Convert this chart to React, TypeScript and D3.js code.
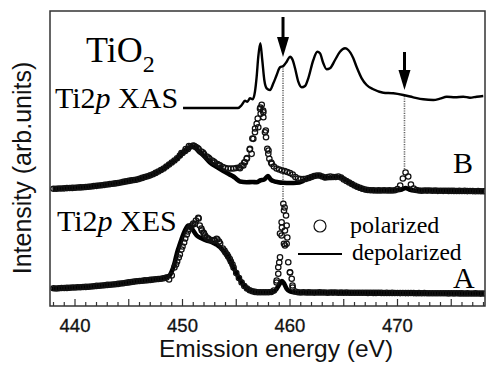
import React from 'react';
import * as d3 from 'd3';

// ---------- axis ----------
const X_DOMAIN: [number, number] = [437.674, 478.14];
const Y_DOMAIN: [number, number] = [0, 295];
const xMinorTicks = d3.range(438, 479);
const xTickLabels = [440, 450, 460, 470];

// ---------- spectrum offsets (arb. units) ----------
const baseA = 13.5;
const baseB = 115.5;
const baseXAS = 198;

// polarized data are sampled on a 0.25 eV grid starting at 438 eV
const gridStart = 438;
const gridStep = 0.25;

// Ti2p XAS [energy, intensity]
const xasSpectrum: [number, number][] = [
  [450.05, 0], [455.16, 0], [455.51, 3], [455.81, 7.3], [456.03, 6.3], [456.28, 9.7],
  [456.53, 8.7], [456.74, 16.3], [456.9, 31.3], [457.05, 51.3], [457.24, 64.7], [457.42, 48],
  [457.61, 28], [457.83, 19.7], [458.14, 18], [458.45, 24.7], [458.76, 33], [459.07, 40.7],
  [459.38, 42], [459.69, 46.3], [460.0, 51.3], [460.25, 48], [460.47, 39.7], [460.77, 26.3],
  [461.09, 20.7], [461.4, 22], [461.7, 29.7], [462.17, 48], [462.54, 56.3], [462.79, 54.7],
  [463.1, 44.7], [463.41, 38.7], [463.72, 39.7], [464.19, 48], [464.65, 56.3], [465.12, 59.7],
  [465.42, 58], [465.89, 49.7], [466.2, 41], [466.67, 29.7], [467.13, 23], [467.75, 18.7],
  [468.68, 15.3], [469.61, 14.7], [470.54, 13], [471.47, 10.7], [472.4, 8.7], [473.33, 8],
  [473.95, 9.3], [474.58, 11.3], [475.35, 10.7], [476.12, 11.3], [476.74, 10.3], [477.37, 11.3],
  [477.98, 12],
];

// Spectrum B, depolarized [energy, intensity]
const depolB: [number, number][] = [
  [437.9, 1.8], [439, 2.3], [440, 2.8], [441, 3.5], [442, 4.7], [443, 6.0], [444, 7.5],
  [445, 9.6], [445.74, 10.9], [446.5, 13.5], [447, 15.2], [447.5, 17.6], [448.21, 21.7],
  [448.75, 26], [449.46, 31.7], [450, 37.5], [450.39, 40.5], [450.86, 44], [451.2, 42.5],
  [451.47, 39.5], [452, 34.5], [452.56, 28], [453.2, 23.5], [453.8, 19.5], [454.3, 16.5],
  [454.73, 14], [455.0, 11.7], [455.35, 9], [455.97, 8.3], [456.5, 8.5], [456.9, 8.3],
  [457.21, 10], [457.6, 11], [457.95, 14.5], [458.2, 11], [458.45, 9.5], [458.9, 8.3],
  [459.38, 7.7], [460.0, 7.5], [460.62, 7.7], [461.2, 9.5], [461.86, 13.3], [462.3, 14.5],
  [462.79, 15], [463.3, 12.5], [463.72, 12.5], [464.2, 13.5], [464.65, 13.3], [465.1, 11],
  [465.58, 7.7], [466.2, 3.3], [466.7, 1.2], [467.13, 0.2], [468, 0], [469, 0.2], [470, 0.3],
  [470.4, 1], [470.75, 2.5], [471.1, 1], [471.5, 0], [472, -0.2], [473, 0], [474, -0.2],
  [475, -0.3], [476, -0.4], [477, -0.5], [478.1, -0.7],
];

// Spectrum B, polarized (0.25 eV grid, one row per eV)
const polBGrid: number[] = [
  1.8, 1.8, 2.0, 2.0,
  2.2, 2.4, 2.5, 2.6,
  2.8, 3.0, 3.1, 3.3,
  3.5, 3.8, 4.0, 4.4,
  4.7, 5.0, 5.3, 5.7,
  6.0, 6.4, 6.8, 7.1,
  7.5, 8.0, 8.6, 9.1,
  9.6, 10.1, 10.5, 10.9,
  11.7, 12.6, 13.5, 14.3,
  15.2, 16.3, 17.6, 19.0,
  20.5, 22.0, 24.0, 26.0,
  28.0, 30.0, 32.3, 35.0,
  37.5, 39.5, 41.5, 44.0,
  45.0, 43.5, 41.5, 39.0,
  36.5, 34.0, 32.0, 30.0,
  28.0, 26.5, 25.0, 23.5,
  22.5, 22.0, 22.0, 22.0,
  22.5, 23.0, 25.0, 28.0,
  32.5, 41.0, 52.0, 62.0,
  72.0, 83.0, 80.0, 60.0,
  40.0, 28.0, 24.0, 22.0,
  21.0, 20.0, 19.5, 18.5,
  17.5, 16.0, 13.5, 12.0,
  11.5, 11.5, 11.7, 12.5,
  13.5, 14.5, 15.0, 15.0,
  14.0, 13.0, 13.5, 14.0,
  13.5, 13.5, 14.0, 13.0,
  11.0, 9.5, 8.0, 6.5,
  5.0, 3.8, 2.8, 1.8,
  1.0, 0.5, 0.3, 0.2,
  0.0, 0.1, 0.0, 0.2,
  0.0, 0.1, 0.0, 0.3,
  1.5, 5.0, 12.0, 18.0,
  14.0, 6.0, 2.0, 0.5,
  0.0, -0.2, 0.0, -0.1,
  0.0, -0.2, -0.1, -0.3,
  -0.2, -0.3, -0.2, -0.4,
  -0.3, -0.4, -0.5, -0.4,
  -0.5, -0.4, -0.6, -0.5,
  -0.6, -0.7, -0.6, -0.7,
  -0.7,
];

// Spectrum B, polarized: extra points on the sharp 457 eV peak and the main band
const polBPeak: [number, number][] = [
  [449.9, 37.5], [450.3, 41.5], [450.6, 44.5], [451.1, 44.5], [451.4, 42.5], [451.9, 38],
  [452.4, 33], [452.9, 29], [453.4, 25.5],
  [455.35, 22.3], [455.66, 25], [455.81, 28.3], [455.97, 31.7], [456.28, 41.7], [456.43, 36.7],
  [456.59, 51.7], [456.74, 58.3], [456.9, 66.7], [457.05, 63.3], [457.21, 81.7], [457.27, 76.7],
  [457.37, 85.7], [457.52, 78.3], [457.52, 73.3], [457.67, 58.3], [457.77, 53.3], [457.89, 41.7],
  [457.98, 36.7], [458.08, 31.7], [458.3, 26.7],
];

// Spectrum A, depolarized [energy, intensity]
const depolA: [number, number][] = [
  [437.8, 4], [439, 4.5], [440, 5], [441, 5.5], [442, 6.5], [443, 7.5], [444, 8.5], [445, 10],
  [446, 11.5], [447, 12.5], [448, 14], [448.5, 15.5], [448.8, 17], [449.0, 21], [449.3, 31],
  [449.5, 40], [449.77, 48.7], [450.0, 56], [450.23, 62], [450.54, 67], [450.86, 64],
  [451.32, 57], [451.8, 54], [452.25, 52], [452.6, 51], [453.02, 48.7], [453.3, 47],
  [453.65, 43.7], [454.0, 39], [454.26, 35.3], [454.6, 28], [454.88, 22], [455.2, 15.5],
  [455.5, 10.3], [455.9, 5], [456.28, 2], [456.7, 0.8], [457.2, 0.3], [458.14, 0.3],
  [458.5, 1.2], [458.76, 3.7], [459.0, 8], [459.25, 11.5], [459.45, 9], [459.69, 3.7],
  [460.0, 1], [460.3, 0.3], [461, 0], [463, 0], [465, -0.2], [467, -0.3], [469, -0.5],
  [471, -0.6], [473, -0.7], [475, -0.8], [477, -1.0], [478.1, -1.0],
];

// Spectrum A, polarized (0.25 eV grid, one row per eV)
const polAGrid: number[] = [
  4.2, 4.0, 4.3, 4.5,
  4.5, 4.6, 4.8, 5.0,
  5.0, 5.2, 5.3, 5.5,
  5.6, 5.8, 6.0, 6.3,
  6.6, 6.8, 7.0, 7.3,
  7.6, 7.8, 8.0, 8.3,
  8.6, 9.0, 9.3, 9.7,
  10.1, 10.5, 10.9, 11.2,
  11.5, 11.8, 12.1, 12.3,
  12.6, 12.9, 13.2, 13.5,
  13.8, 14.3, 15.0, 13.0,
  17.0, 25.0, 31.0, 38.0,
  46.0, 54.0, 61.0, 66.0,
  69.0, 72.0, 74.0, 64.0,
  59.0, 55.0, 53.0, 52.0,
  52.0, 53.0, 49.0, 44.0,
  40.0, 36.0, 31.0, 25.0,
  19.5, 14.5, 10.0, 6.5,
  4.0, 2.3, 1.2, 0.6,
  0.3, 0.2, 0.2, 0.3,
  0.3, 0.5, 2.0, 10.0,
  30.0, 65.0, 85.0, 55.0,
  20.0, 5.0, 1.0, 0.3,
  0.0, 0.2, 0.0, 0.1,
  0.0, -0.1, 0.0, 0.1,
  0.0, 0.0, -0.2, 0.0,
  -0.1, 0.0, -0.2, -0.1,
  -0.2, -0.1, -0.2, -0.3,
  -0.2, -0.3, -0.2, -0.3,
  -0.3, -0.4, -0.3, -0.4,
  -0.4, -0.3, -0.4, -0.5,
  -0.4, -0.5, -0.4, -0.5,
  -0.5, -0.6, -0.5, -0.6,
  -0.6, -0.5, -0.6, -0.7,
  -0.6, -0.7, -0.6, -0.7,
  -0.7, -0.8, -0.7, -0.8,
  -0.8, -0.7, -0.8, -0.9,
  -0.8, -0.9, -0.8, -0.9,
  -0.9, -1.0, -0.9, -1.0,
  -1.0, -0.9, -1.0, -1.1,
  -1.0,
];

// Spectrum A, polarized: extra points on the main peak and the elastic peak
const polAPeak: [number, number][] = [
  [449.4, 28], [449.65, 35], [449.9, 43], [450.15, 50], [450.4, 58], [450.63, 63.7],
  [450.86, 67], [451.16, 68.7], [451.47, 74.7], [451.6, 67], [451.8, 62], [451.95, 60],
  [452.1, 57], [452.4, 54], [452.9, 52.5], [453.18, 53.7], [453.4, 51], [453.9, 42],
  [454.15, 38], [454.4, 33.5], [454.65, 28],
  [458.76, 12], [458.91, 18.7], [458.91, 25.3], [459.07, 35.3], [459.07, 59], [459.22, 57],
  [459.22, 70.3], [459.38, 88.7], [459.44, 82], [459.44, 48.7], [459.53, 62], [459.53, 47],
  [459.63, 77], [459.69, 67], [459.69, 48.7], [459.84, 30.3], [460.0, 20.3], [460.16, 13.7],
  [460.23, 7],
];

// excitation-energy markers (arrows on XAS, dotted guides)
const markerE = [459.35, 470.65];
const arrowTail = [289, 254];
const arrowTip = [249, 216];
const guideTop = [240, 210];
const guideBottom = [103, 136];

const SERIF = '"Liberation Serif", "Times New Roman", serif';
const SANS = '"Liberation Sans", Arial, sans-serif';

export default function App() {
  const W = 488;
  const H = 367;
  const L = 50, T = 11, R = 485, B = 306;

  const x = d3.scaleLinear().domain(X_DOMAIN).range([L, R]);
  const y = d3.scaleLinear().domain(Y_DOMAIN).range([B, T]);

  const lineGen = (base: number) =>
    d3
      .line<[number, number]>()
      .x((d) => x(d[0]))
      .y((d) => y(base + d[1]))
      .curve(d3.curveMonotoneX);

  const gridPts = (vals: number[]): [number, number][] =>
    vals.map((v, i) => [gridStart + i * gridStep, v] as [number, number]);

  const polB = [...gridPts(polBGrid), ...polBPeak];
  const polA = [...gridPts(polAGrid), ...polAPeak];

  const circles = (pts: [number, number][], base: number, key: string) =>
    pts.map((d, i) => (
      <circle
        key={key + i}
        cx={x(d[0])}
        cy={y(base + d[1])}
        r={2.7}
        fill="none"
        stroke="#111"
        strokeWidth={1.25}
      />
    ));

  return (
    <div style={{ position: 'absolute', left: 0, top: 0 }}>
      <svg width={W} height={H} style={{ display: 'block', background: '#fff' }}>
        <defs>
          <clipPath id="plotClip">
            <rect x={L} y={T} width={R - L} height={B - T} />
          </clipPath>
        </defs>

        {/* dotted guide lines */}
        {markerE.map((e, i) => (
          <line
            key={'g' + i}
            x1={x(e)}
            x2={x(e)}
            y1={y(guideTop[i])}
            y2={y(guideBottom[i])}
            stroke="#666"
            strokeWidth={1.6}
            strokeDasharray="1.2,1.2"
          />
        ))}

        <g clipPath="url(#plotClip)">
          {/* XAS */}
          <path d={lineGen(baseXAS)(xasSpectrum) || ''} fill="none" stroke="#000" strokeWidth={2.4} />
          {/* B */}
          <path d={lineGen(baseB)(depolB) || ''} fill="none" stroke="#000" strokeWidth={4.6} strokeLinejoin="round" />
          {circles(polB, baseB, 'pb')}
          {/* A */}
          <path d={lineGen(baseA)(depolA) || ''} fill="none" stroke="#000" strokeWidth={4.6} strokeLinejoin="round" />
          {circles(polA, baseA, 'pa')}
        </g>

        {/* arrows */}
        {markerE.map((e, i) => {
          const xt = x(e);
          const tip = y(arrowTip[i]);
          const tail = y(arrowTail[i]);
          const headLen = 20;
          const halfW = 6;
          return (
            <g key={'a' + i}>
              <line x1={xt} x2={xt} y1={tail} y2={tip - headLen + 2} stroke="#000" strokeWidth={3} />
              <path
                d={`M${xt - halfW},${tip - headLen} L${xt + halfW},${tip - headLen} L${xt},${tip} Z`}
                fill="#000"
              />
            </g>
          );
        })}

        {/* frame */}
        <rect x={L} y={T} width={R - L} height={B - T} fill="none" stroke="#333" strokeWidth={1.5} />

        {/* bottom ticks (inward) */}
        {xMinorTicks.map((t) => (
          <line
            key={'t' + t}
            x1={x(t)}
            x2={x(t)}
            y1={B}
            y2={B - (t % 5 === 0 ? 7 : 4)}
            stroke="#333"
            strokeWidth={1.2}
          />
        ))}
        {xTickLabels.map((t) => (
          <text
            key={'tl' + t}
            x={x(t)}
            y={332}
            textAnchor="middle"
            fontFamily={SANS}
            fontSize={18.5}
            fill="#111"
            stroke="#111"
            strokeWidth={0.3}
          >
            {t}
          </text>
        ))}

        {/* axis titles */}
        <text x={276} y={357} textAnchor="middle" fontFamily={SANS} fontSize={24.5} fill="#111">
          Emission energy (eV)
        </text>
        <text
          transform="translate(31,168) rotate(-90)"
          textAnchor="middle"
          fontFamily={SANS}
          fontSize={25}
          fill="#111"
        >
          Intensity (arb.units)
        </text>

        {/* labels */}
        <text x={86} y={62} fontFamily={SERIF} fontSize={36} fill="#000">
          TiO
          <tspan fontSize={24} dy={10}>2</tspan>
        </text>
        <text x={55} y={108} fontFamily={SERIF} fontSize={30} fill="#000">
          Ti2<tspan fontStyle="italic">p</tspan> XAS
        </text>
        <text x={57} y={231} fontFamily={SERIF} fontSize={30} fill="#000">
          Ti2<tspan fontStyle="italic">p</tspan> XES
        </text>
        <text x={453} y={173} fontFamily={SERIF} fontSize={30} fill="#000">B</text>
        <text x={453} y={288} fontFamily={SERIF} fontSize={30} fill="#000">A</text>

        {/* legend */}
        <circle cx={320} cy={226} r={6} fill="none" stroke="#111" strokeWidth={1.2} />
        <text x={350} y={233} fontFamily={SERIF} fontSize={24} fill="#000">polarized</text>
        <line x1={298} x2={342} y1={254} y2={254} stroke="#000" strokeWidth={2} />
        <text x={352} y={260} fontFamily={SERIF} fontSize={23.5} fill="#000">depolarized</text>
      </svg>
    </div>
  );
}
